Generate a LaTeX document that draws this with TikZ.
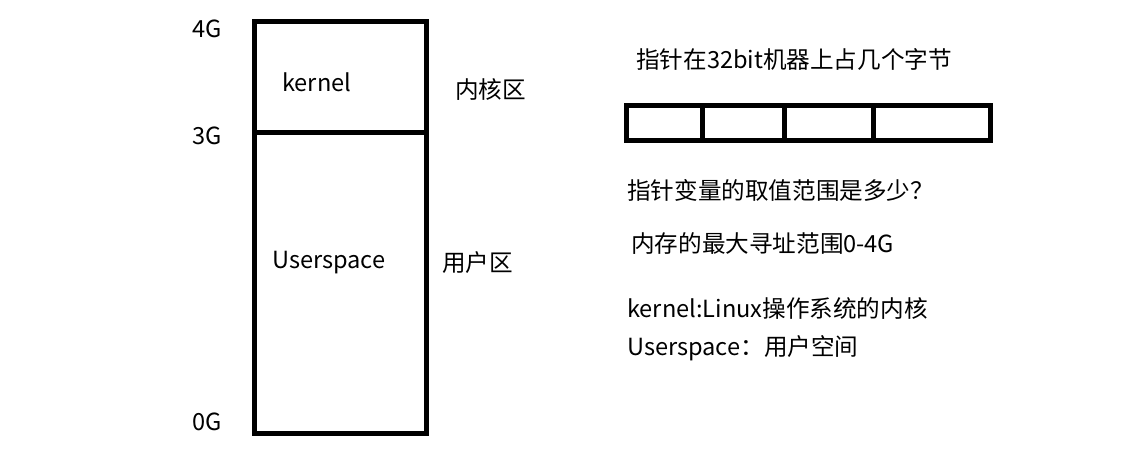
\documentclass[tikz,border=0pt]{standalone}
\usepackage{fontspec}
\setmainfont{Noto Sans CJK SC}
\begin{document}
\begin{tikzpicture}[x=1pt,y=-1pt,
  box/.style={draw=black,line width=5pt},
  lbl/.style={inner sep=0pt,anchor=base west,font=\fontsize{23.6}{28}\selectfont},
  lblr/.style={inner sep=0pt,anchor=base east,font=\fontsize{23.6}{28}\selectfont}]
\useasboundingbox (0,0) rectangle (1121,460);
% memory column
\draw[box] (254.5,22) rectangle (426,433);
\draw[box] (254.5,132.5) -- (426,132.5);
\node[lblr] (g4) at (222,37.5) {4G};
\node[lblr] (g3) at (222,144) {3G};
\node[lblr] (g0) at (222,430) {0G};
\node[lbl] (kern) at (282,91.5) {kernel};
\node[lbl] (user) at (272,268) {Userspace};
\node[lbl] (nhq) at (455,98) {内核区};
\node[lbl] (yhq) at (442,271) {用户区};
% pointer bytes
\draw[box] (626.5,105.8) rectangle (990,140.8);
\draw[box] (702.5,105.8) -- (702.5,140.8);
\draw[box] (784.5,105.8) -- (784.5,140.8);
\draw[box] (873.8,105.8) -- (873.8,140.8);
\node[lbl] (t1) at (636,69) {指针在32bit机器上占几个字节};
\node[lbl] (t2) at (627,199) {指针变量的取值范围是多少？};
\node[lbl] (t3) at (631,252) {内存的最大寻址范围0-4G};
\node[lbl] (t4) at (627,317) {kernel:Linux操作系统的内核};
\node[lbl] (t5) at (627,355) {Userspace：用户空间};
\end{tikzpicture}
\end{document}
